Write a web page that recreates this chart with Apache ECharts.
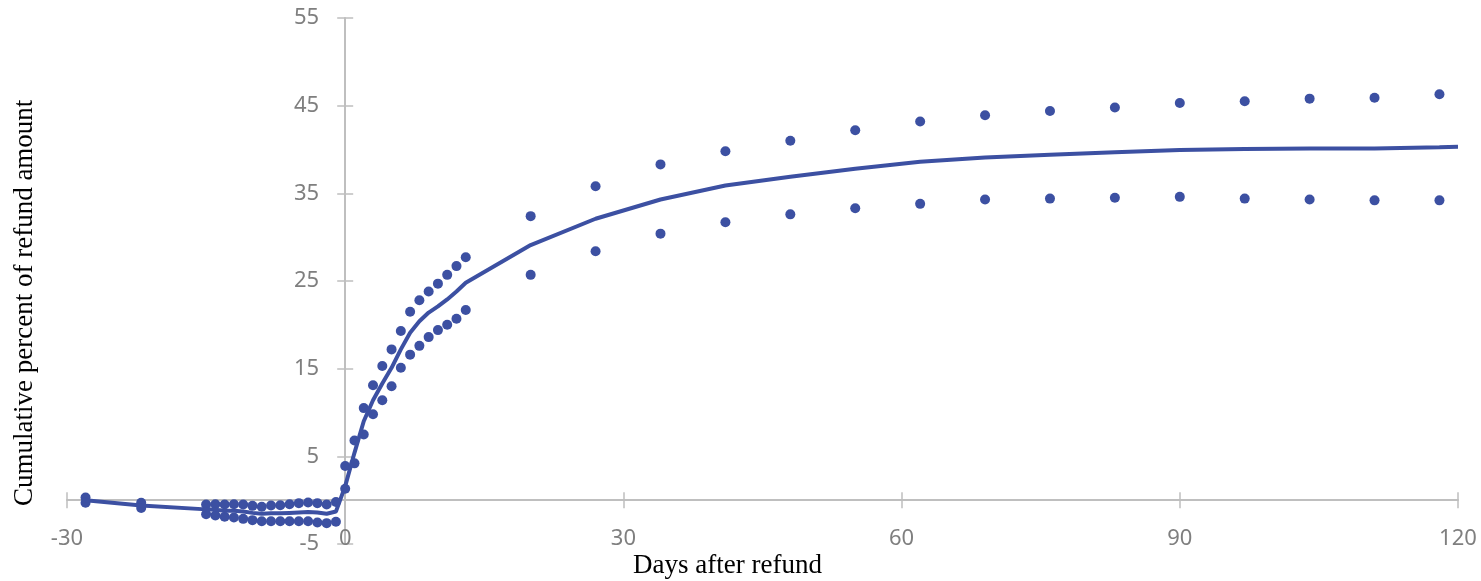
<!DOCTYPE html>
<html>
<head>
<meta charset="UTF-8">
<title>Cumulative percent of refund amount</title>
<style>
  * { margin: 0; padding: 0; }
  body { background: #ffffff; }
  #charts { width: 1481px; height: 581px; }
</style>
</head>
<body>
<div id="charts"></div>
<script src="https://cdn.jsdelivr.net/npm/echarts@6/dist/echarts.min.js"></script>
<script>
// days relative to refund
var days = [-28, -22, -15, -14, -13, -12, -11, -10, -9, -8, -7, -6, -5, -4, -3, -2, -1,
  0, 1, 2, 3, 4, 5, 6, 7, 8, 9, 10, 11, 12, 13,
  20, 27, 34, 41, 48, 55, 62, 69, 76, 83, 90, 97, 104, 111, 118];
var upperCI = [0.3, -0.3, -0.49, -0.46, -0.49, -0.46, -0.49, -0.65, -0.76, -0.6, -0.57, -0.46, -0.34, -0.26, -0.34, -0.49, -0.2,
  3.9, 6.8, 10.5, 13.1, 15.3, 17.2, 19.3, 21.5, 22.8, 23.8, 24.7, 25.7, 26.7, 27.7,
  32.4, 35.8, 38.3, 39.8, 41.0, 42.2, 43.2, 43.9, 44.4, 44.8, 45.3, 45.5, 45.8, 45.9, 46.3];
var lowerCI = [-0.3, -0.9, -1.6, -1.75, -1.9, -1.97, -2.13, -2.28, -2.4, -2.4, -2.4, -2.4, -2.4, -2.4, -2.54, -2.62, -2.47,
  1.3, 4.2, 7.5, 9.8, 11.4, 13.0, 15.1, 16.6, 17.6, 18.6, 19.4, 20.0, 20.7, 21.7,
  25.7, 28.4, 30.4, 31.7, 32.6, 33.3, 33.8, 34.3, 34.4, 34.5, 34.6, 34.4, 34.3, 34.2, 34.2];
// estimate line runs one point further, to day 120
var lineDays = days.concat([120]);
var estimate = [0, -0.6, -1.05, -1.1, -1.2, -1.2, -1.3, -1.45, -1.55, -1.5, -1.5, -1.45, -1.4, -1.35, -1.4, -1.55, -1.3,
  1.6, 5.4, 9.0, 11.4, 13.3, 15.1, 17.2, 19.1, 20.4, 21.4, 22.1, 22.9, 23.8, 24.8,
  29.1, 32.1, 34.3, 35.9, 36.9, 37.8, 38.6, 39.1, 39.4, 39.7, 39.95, 40.05, 40.1, 40.1, 40.25, 40.3];

function pairs(xs, ys) {
  var out = [];
  for (var i = 0; i < ys.length; i++) out.push([xs[i], ys[i]]);
  return out;
}

var W = 1481, H = 581;
var gLeft = 67, gRight = 23, gTop = 18, gBottom = 37;
var xMin = -30, xMax = 120, yMin = -5, yMax = 55;
// where the axes cross (x = 0, y = 0) inside the grid, used as axis offsets
var gW = W - gLeft - gRight, gH = H - gTop - gBottom;
var zeroX = gW * (0 - xMin) / (xMax - xMin);
var zeroY = gH * (yMax - 0) / (yMax - yMin);

var blue = '#3c50a2';
var axisGray = '#bfbfbf';
var labelStyle = { color: '#7f7f7f', fontSize: 22, fontFamily: 'Noto Sans' };
var tickStyle = { show: true, length: 8, lineStyle: { color: axisGray, width: 1.5 } };

var mycharts = echarts.init(document.getElementById('charts'));
var option = {
  animation: false,
  backgroundColor: '#ffffff',
  grid: { left: gLeft, right: gRight, top: gTop, bottom: gBottom, outerBoundsMode: 'none', containLabel: false },
  xAxis: [{
    type: 'value', min: xMin, max: xMax, interval: 30, position: 'bottom',
    offset: -(gH - zeroY),
    axisLine: { onZero: false, lineStyle: { color: axisGray, width: 2 } },
    axisTick: tickStyle,
    axisLabel: Object.assign({ margin: 28 }, labelStyle),
    splitLine: { show: false }
  }, {
    // second axis only to make the ticks cross the line
    type: 'value', min: xMin, max: xMax, interval: 30, position: 'top',
    offset: -zeroY,
    axisLine: { onZero: false, show: false },
    axisTick: tickStyle,
    axisLabel: { show: false },
    splitLine: { show: false }
  }],
  yAxis: [{
    type: 'value', min: yMin, max: yMax, interval: 10, position: 'left',
    offset: -zeroX,
    axisLine: { onZero: false, show: true, lineStyle: { color: axisGray, width: 2 } },
    axisTick: tickStyle,
    axisLabel: Object.assign({ margin: 26 }, labelStyle),
    splitLine: { show: false }
  }, {
    type: 'value', min: yMin, max: yMax, interval: 10, position: 'right',
    offset: -(gW - zeroX),
    axisLine: { onZero: false, show: false },
    axisTick: tickStyle,
    axisLabel: { show: false },
    splitLine: { show: false }
  }],
  graphic: [{
    type: 'text', left: 633, top: 552,
    style: { text: 'Days after refund', fill: '#000000', font: '27px "Liberation Serif"' }
  }, {
    type: 'text', x: 11, y: 506, rotation: Math.PI / 2,
    style: { text: 'Cumulative percent of refund amount', fill: '#000000', font: '27px "Liberation Serif"' }
  }],
  series: [{
    name: 'estimate', type: 'line', data: pairs(lineDays, estimate),
    showSymbol: false, lineStyle: { color: blue, width: 4 }, z: 3
  }, {
    name: 'upper', type: 'scatter', data: pairs(days, upperCI),
    symbolSize: 10, itemStyle: { color: blue, opacity: 1 }
  }, {
    name: 'lower', type: 'scatter', data: pairs(days, lowerCI),
    symbolSize: 10, itemStyle: { color: blue, opacity: 1 }
  }]
};
mycharts.setOption(option);
</script>
</body>
</html>
